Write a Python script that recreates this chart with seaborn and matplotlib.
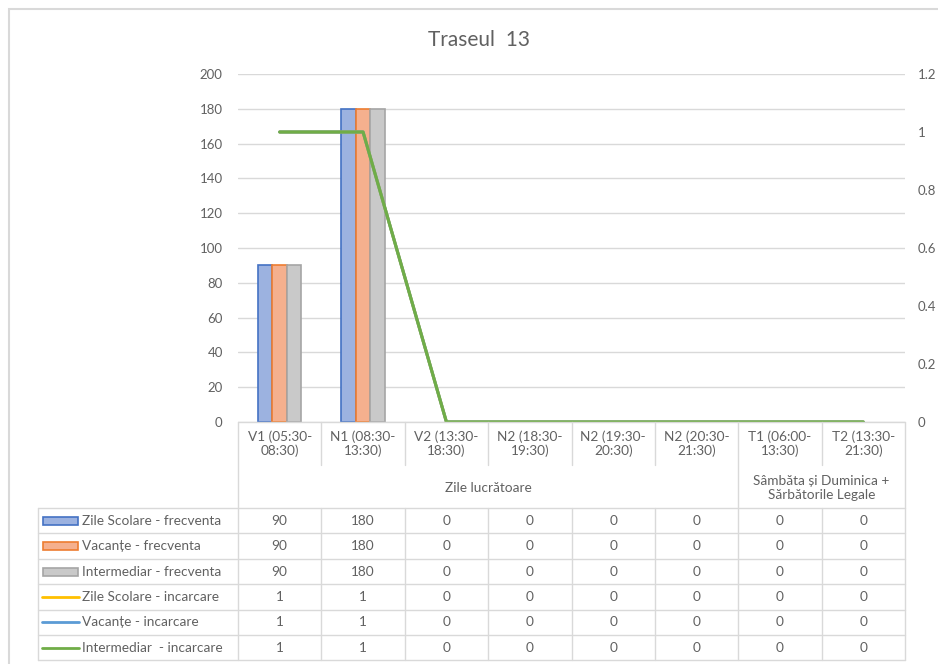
import numpy as np
import pandas as pd
import matplotlib
matplotlib.use("Agg")
import matplotlib.pyplot as plt
from matplotlib.patches import Rectangle
from matplotlib.lines import Line2D
import seaborn as sns

# ---------------- data ----------------
categories = ["V1 (05:30-\n08:30)", "N1 (08:30-\n13:30)", "V2 (13:30-\n18:30)",
              "N2 (18:30-\n19:30)", "N2 (19:30-\n20:30)", "N2 (20:30-\n21:30)",
              "T1 (06:00-\n13:30)", "T2 (13:30-\n21:30)"]
groups = ["Zile lucrătoare", "Sâmbăta și Duminica +\nSărbătorile Legale"]
group_spans = [(0, 6), (6, 8)]

bar_names = ["Zile Scolare - frecventa", "Vacanțe - frecventa", "Intermediar - frecventa"]
zile_frecv = [90, 180, 0, 0, 0, 0, 0, 0]
vac_frecv = [90, 180, 0, 0, 0, 0, 0, 0]
inter_frecv = [90, 180, 0, 0, 0, 0, 0, 0]

line_names = ["Zile Scolare - incarcare", "Vacanțe - incarcare", "Intermediar  - incarcare"]
zile_inc = [1, 1, 0, 0, 0, 0, 0, 0]
vac_inc = [1, 1, 0, 0, 0, 0, 0, 0]
inter_inc = [1, 1, 0, 0, 0, 0, 0, 0]

left_ticks = [0, 20, 40, 60, 80, 100, 120, 140, 160, 180, 200]
right_ticks = [0, 0.2, 0.4, 0.6, 0.8, 1, 1.2]
right_labels = ["0", "0.2", "0.4", "0.6", "0.8", "1", "1.2"]

bar_fill = ["#9CB2E0", "#F5B08E", "#C9C9C9"]
bar_edge = ["#4472C4", "#ED7D31", "#A5A5A5"]
line_colors = ["#FFC000", "#5B9BD5", "#70AD47"]
TXT = "#616161"
GRID = "#D9D9D9"

# ---------------- figure ----------------
sns.set_theme(style="white")
plt.rcParams['font.family'] = ['Lato', 'DejaVu Sans']

W, H = 938, 664
fig = plt.figure(figsize=(W / 100, H / 100), dpi=100)
fig.patch.set_facecolor("white")

def fx(px):
    return px / W

def fy(py):
    return 1 - py / H

ax_l, ax_r, ax_t, ax_b = 238, 905, 74, 422
ax = fig.add_axes([fx(ax_l), fy(ax_b), fx(ax_r - ax_l), fy(ax_t) - fy(ax_b)])

n = len(categories)
xs = np.arange(n)
df = pd.DataFrame({
    "cat": np.tile(xs, 3),
    "series": np.repeat(bar_names, n),
    "value": zile_frecv + vac_frecv + inter_frecv,
})
sns.barplot(data=df, x="cat", y="value", hue="series", hue_order=bar_names,
            palette=bar_fill, width=0.52, ax=ax, legend=False, saturation=1,
            native_scale=True)
for cont, ec in zip(ax.containers, bar_edge):
    for p in cont:
        if p.get_height() > 0:
            p.set_edgecolor(ec)
            p.set_linewidth(1.2)
        else:
            p.set_linewidth(0)

ax.set_xlim(-0.5, n - 0.5)
ax.set_ylim(0, 200)
ax.set_yticks(left_ticks)
ax.set_yticklabels([str(t) for t in left_ticks], color=TXT, fontsize=9.5)
ax.set_xticks([])
ax.set_xlabel("")
ax.set_ylabel("")
ax.grid(axis="y", color=GRID, linewidth=1)
ax.set_axisbelow(True)
for s in ax.spines.values():
    s.set_visible(False)
ax.tick_params(axis="y", length=0, pad=11)

ax2 = ax.twinx()
ldf = pd.DataFrame({
    "cat": np.tile(xs, 3),
    "series": np.repeat(line_names, n),
    "value": zile_inc + vac_inc + inter_inc,
})
for name, col in zip(line_names, line_colors):
    sub = ldf[ldf["series"] == name]
    sns.lineplot(data=sub, x="cat", y="value", color=col, linewidth=2.2, ax=ax2,
                 legend=False)
ax2.set_ylim(0, 1.2)
ax2.set_yticks(right_ticks)
ax2.set_yticklabels(right_labels, color=TXT, fontsize=9.5)
ax2.set_xlim(-0.5, n - 0.5)
ax2.set_xlabel("")
ax2.set_ylabel("")
for s in ax2.spines.values():
    s.set_visible(False)
ax2.tick_params(axis="y", length=0, pad=9)

fig.text(fx(479), fy(40), "Traseul  13", ha="center", va="center",
         fontsize=15, color=TXT)

# ---------------- data table ----------------
def cedge(i):
    return ax_l + i * (ax_r - ax_l) / n

lc = "#D9D9D9"
def hline(x0, x1, y):
    fig.add_artist(Line2D([fx(x0), fx(x1)], [fy(y), fy(y)], color=lc, lw=1))

def vline(x, y0, y1):
    fig.add_artist(Line2D([fx(x), fx(x)], [fy(y0), fy(y1)], color=lc, lw=1))

tab_left = 38
head_top, head_cat_bot, head_bot = 422, 465, 508
row_h = 25.4
rows_bot = head_bot + 6 * row_h
TFS = 9.8

# header lines
hline(ax_l, ax_r, head_top)
vline(ax_l, head_top, rows_bot)
vline(ax_r, head_top, rows_bot)
starts = [g[0] for g in group_spans]
for i in range(1, n):
    if i in starts:
        vline(cedge(i), head_top, rows_bot)
    else:
        vline(cedge(i), head_top, head_cat_bot)
        vline(cedge(i), head_bot, rows_bot)
for i in range(7):
    hline(tab_left, ax_r, head_bot + i * row_h)
vline(tab_left, head_bot, rows_bot)

for i, c in enumerate(categories):
    xc = (cedge(i) + cedge(i + 1)) / 2
    fig.text(fx(xc), fy(444), c, ha="center", va="center", fontsize=TFS,
             color=TXT, linespacing=1.15)
for g, (a, b) in zip(groups, group_spans):
    xc = (cedge(a) + cedge(b)) / 2
    fig.text(fx(xc), fy(488), g, ha="center", va="center", fontsize=TFS,
             color=TXT, linespacing=1.15)

row_names = bar_names + line_names
row_vals = [zile_frecv, vac_frecv, inter_frecv, zile_inc, vac_inc, inter_inc]
for r, (name, vals) in enumerate(zip(row_names, row_vals)):
    yc = head_bot + (r + 0.5) * row_h
    if r < 3:
        fig.add_artist(Rectangle((fx(43), fy(yc + 4)), fx(35), fy(yc - 4) - fy(yc + 4),
                                 facecolor=bar_fill[r], edgecolor=bar_edge[r], lw=1.2))
    else:
        fig.add_artist(Line2D([fx(42), fx(79)], [fy(yc), fy(yc)],
                              color=line_colors[r - 3], lw=2))
    fig.text(fx(82), fy(yc), name, ha="left", va="center", fontsize=TFS, color=TXT)
    for i, v in enumerate(vals):
        xc = (cedge(i) + cedge(i + 1)) / 2
        fig.text(fx(xc), fy(yc), f"{v:g}", ha="center", va="center",
                 fontsize=TFS, color=TXT)

# chart border
fig.add_artist(Rectangle((fx(9), fy(H + 10)), fx(W + 10), fy(9) - fy(H + 10),
                         facecolor="none", edgecolor="#D9D9D9", lw=1.5))

fig.savefig("out.png", dpi=100)
